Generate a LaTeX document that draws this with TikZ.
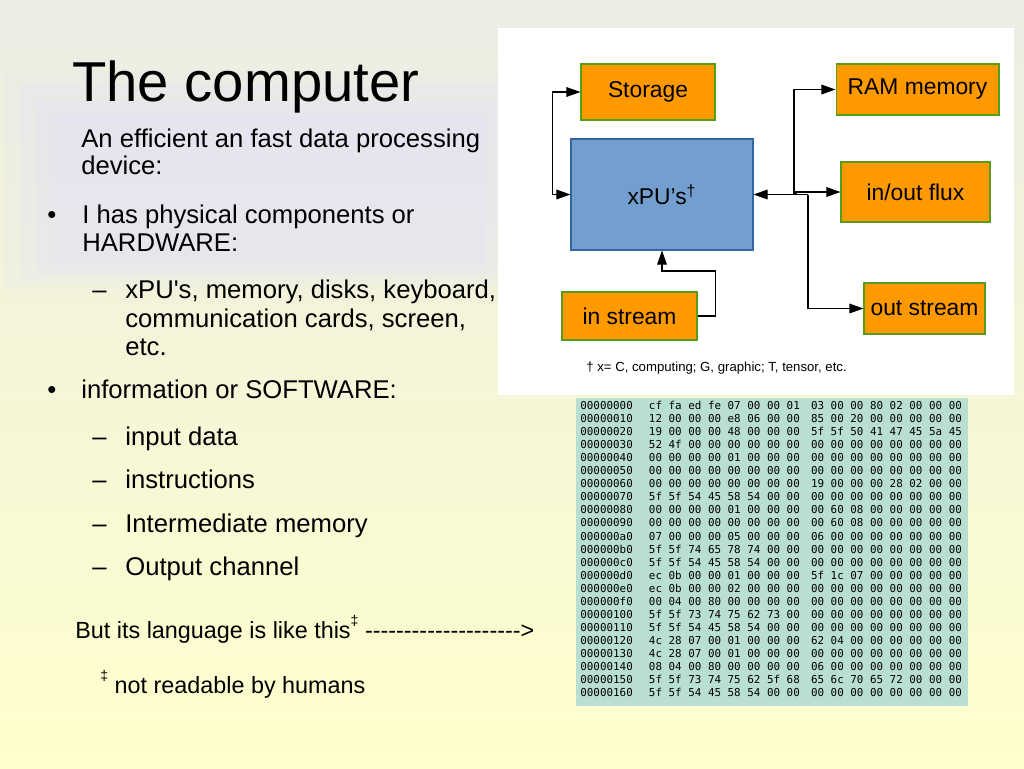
\documentclass[tikz,border=0pt]{standalone}
\usepackage{fontspec}
\setmainfont{Liberation Sans}
\setmonofont{DejaVu Sans Mono}
\usetikzlibrary{arrows.meta}

\definecolor{bgtop}{RGB}{236,236,228}
\definecolor{bgmid}{RGB}{246,246,214}
\definecolor{bgbottom}{RGB}{255,255,204}
\definecolor{glow}{RGB}{222,222,255}
\definecolor{unitfill}{RGB}{255,153,0}
\definecolor{unitline}{RGB}{87,157,28}
\definecolor{corefill}{RGB}{114,159,207}
\definecolor{coreline}{RGB}{52,101,164}
\definecolor{hexfill}{RGB}{185,222,212}

\newcommand{\smallddag}{\raisebox{1.0ex}{\fontsize{8}{9}\selectfont ‡}}

\begin{document}
\begin{tikzpicture}[x=0.02cm, y=-0.02cm]
	\tikzstyle{every node}=[inner sep=0pt]
	\tikzstyle{unit}=[draw=unitline, fill=unitfill, line width=0.6pt, font=\fontsize{13}{15}\selectfont]
	\tikzstyle{core}=[draw=coreline, fill=corefill, line width=0.6pt, font=\fontsize{13}{15}\selectfont]
	\tikzstyle{link}=[line width=0.6pt, -{Triangle[length=8pt, width=5.5pt]}]
	\tikzstyle{body}=[anchor=base west, font=\fontsize{14.6}{17}\selectfont]
	\tikzstyle{note}=[anchor=base west, font=\fontsize{13.3}{16}\selectfont]

	% slide background
	\useasboundingbox (0,0) rectangle (1024,768);
	\shade[top color=bgtop, middle color=bgmid, bottom color=bgbottom] (0,0) rectangle (1024,768);
	\fill[glow, opacity=0.12] (5,70) rectangle (500,290);
	\fill[glow, opacity=0.15] (20,85) rectangle (500,282);
	\fill[glow, opacity=0.18] (37,100) rectangle (495,275);
	\fill[glow, opacity=0.2] (55,115) rectangle (485,265);

	% left column text
	\node[anchor=base west, font=\fontsize{32}{36}\selectfont] (title) at (72,101) {The computer};
	\node[body] (intro1) at (81,147) {An efficient an fast data processing};
	\node[body] (intro2) at (81,174) {device:};
	\node[body] (bul1) at (47,223) {•};
	\node[body] (hw1) at (82,223) {I has physical components or};
	\node[body] (hw2) at (82,251) {HARDWARE:};
	\node[body] (dash1) at (92,298) {–};
	\node[body] (hwa) at (125,298) {xPU\textquotesingle s, memory, disks, keyboard,};
	\node[body] (hwb) at (125,327) {communication cards, screen,};
	\node[body] (hwc) at (125,355) {etc.};
	\node[body] (bul2) at (47,398) {•};
	\node[body] (sw) at (81,398) {information or SOFTWARE:};
	\node[body] (dash2) at (92,445) {–};
	\node[body] (swa) at (125,445) {input data};
	\node[body] (dash3) at (92,488) {–};
	\node[body] (swb) at (125,488) {instructions};
	\node[body] (dash4) at (92,532) {–};
	\node[body] (swc) at (125,532) {Intermediate memory};
	\node[body] (dash5) at (92,575) {–};
	\node[body] (swd) at (125,575) {Output channel};
	\node[note] (lang) at (75,638) {But its language is like this\smallddag{} {-}{-}{-}{-}{-}{-}{-}{-}{-}{-}{-}{-}{-}{-}{-}{-}{-}{-}{-}{-}>};
	\node[note] (langnote) at (100,693) {\smallddag{} not readable by humans};

	% block diagram
	\fill[white] (498,28) rectangle (1014,395);
	\node[unit, minimum width=2.68cm, minimum height=1.12cm] (storage) at (648,92) {Storage};
	\node[unit, minimum width=3.26cm, minimum height=1.02cm] (ram) at (917.5,89.5) {RAM memory};
	\node[core, minimum width=3.64cm, minimum height=2.22cm] (xpu) at (662,194.5) {xPU’s\textsuperscript{†}};
	\node[unit, minimum width=2.98cm, minimum height=1.2cm] (flux) at (915.5,192) {in/out flux};
	\node[unit, minimum width=2.7cm, minimum height=0.96cm] (instream) at (629.5,316) {in stream};
	\node[unit, minimum width=2.42cm, minimum height=1.02cm] (outstream) at (924.5,308.5) {out stream};
	\node[anchor=base west, font=\fontsize{7.5}{9}\selectfont] (dagnote) at (586,371) {† x= C, computing; G, graphic; T, tensor, etc.};

	\coordinate (bus) at (808,194.5);
	\coordinate (ramtap) at (794,194.5);
	\coordinate (fluxtap) at (796,194.5);

	\draw[link, {Triangle[length=8pt, width=5.5pt]}-{Triangle[length=8pt, width=5.5pt]}] (storage.west) -- ++(-28,0) |- (xpu.west);
	\draw[link] (bus) -- (xpu.east);
	\draw[link] (ramtap) |- (ram.west);
	\draw[link] (fluxtap) |- (flux.west);
	\draw[link] (bus) |- (outstream.west);
	\draw[link] (instream.east) -- ++(18,0) -- ++(0,-45) -| (xpu.south);

	% machine code dump
	\fill[hexfill] (576,398) rectangle (968,706);
	\node[anchor=north west, font=\fontsize{6.2}{7.43}\selectfont\ttfamily] (hexdump) at (580,400) {%
		\begin{tabular}{@{}l@{\hspace{9.2pt}}l@{\hspace{6.4pt}}l@{}}
			00000000 & cf fa ed fe 07 00 00 01 & 03 00 00 80 02 00 00 00\\
			00000010 & 12 00 00 00 e8 06 00 00 & 85 00 20 00 00 00 00 00\\
			00000020 & 19 00 00 00 48 00 00 00 & 5f 5f 50 41 47 45 5a 45\\
			00000030 & 52 4f 00 00 00 00 00 00 & 00 00 00 00 00 00 00 00\\
			00000040 & 00 00 00 00 01 00 00 00 & 00 00 00 00 00 00 00 00\\
			00000050 & 00 00 00 00 00 00 00 00 & 00 00 00 00 00 00 00 00\\
			00000060 & 00 00 00 00 00 00 00 00 & 19 00 00 00 28 02 00 00\\
			00000070 & 5f 5f 54 45 58 54 00 00 & 00 00 00 00 00 00 00 00\\
			00000080 & 00 00 00 00 01 00 00 00 & 00 60 08 00 00 00 00 00\\
			00000090 & 00 00 00 00 00 00 00 00 & 00 60 08 00 00 00 00 00\\
			000000a0 & 07 00 00 00 05 00 00 00 & 06 00 00 00 00 00 00 00\\
			000000b0 & 5f 5f 74 65 78 74 00 00 & 00 00 00 00 00 00 00 00\\
			000000c0 & 5f 5f 54 45 58 54 00 00 & 00 00 00 00 00 00 00 00\\
			000000d0 & ec 0b 00 00 01 00 00 00 & 5f 1c 07 00 00 00 00 00\\
			000000e0 & ec 0b 00 00 02 00 00 00 & 00 00 00 00 00 00 00 00\\
			000000f0 & 00 04 00 80 00 00 00 00 & 00 00 00 00 00 00 00 00\\
			00000100 & 5f 5f 73 74 75 62 73 00 & 00 00 00 00 00 00 00 00\\
			00000110 & 5f 5f 54 45 58 54 00 00 & 00 00 00 00 00 00 00 00\\
			00000120 & 4c 28 07 00 01 00 00 00 & 62 04 00 00 00 00 00 00\\
			00000130 & 4c 28 07 00 01 00 00 00 & 00 00 00 00 00 00 00 00\\
			00000140 & 08 04 00 80 00 00 00 00 & 06 00 00 00 00 00 00 00\\
			00000150 & 5f 5f 73 74 75 62 5f 68 & 65 6c 70 65 72 00 00 00\\
			00000160 & 5f 5f 54 45 58 54 00 00 & 00 00 00 00 00 00 00 00
		\end{tabular}};
\end{tikzpicture}
\end{document}
